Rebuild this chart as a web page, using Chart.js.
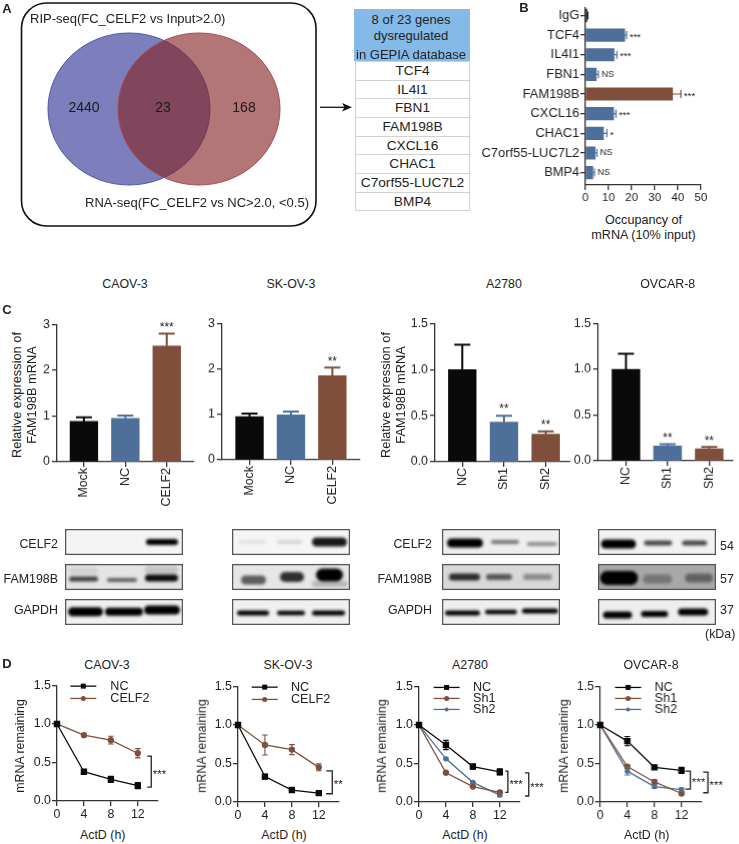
<!DOCTYPE html>
<html>
<head>
<meta charset="utf-8">
<title>CELF2 FAM198B figure</title>
<script src="https://cdn.jsdelivr.net/npm/chart.js@4"></script>
<style>
  html, body { margin: 0; padding: 0; background: #fff; }
  #page { position: relative; width: 739px; height: 844px; overflow: hidden; font-family: "Liberation Sans", Arial, sans-serif; color: #222; }
  #page canvas { position: absolute; }
  .t { position: absolute; white-space: nowrap; line-height: 1; }
  .cell { position: absolute; box-sizing: border-box; border: 1.5px solid #d2d2d2; background: #fff; text-align: center; font-size: 13.7px; }
</style>
</head>
<body>
<div id="page"></div>
<script>
// ---------- data ----------
var vennLabels = ["2440", "23", "168"]
var geneList = ["TCF4", "IL4I1", "FBN1", "FAM198B", "CXCL16", "CHAC1", "C7orf55-LUC7L2", "BMP4"]

var occupancyLabels = ["IgG", "TCF4", "IL4I1", "FBN1", "FAM198B", "CXCL16", "CHAC1", "C7orf55-LUC7L2", "BMP4"]
var occupancyValues = [0.6, 17, 12.4, 4.7, 37.7, 12.2, 7.8, 4.2, 3.2]
var occupancyErrors = [0.4, 0.8, 1.2, 0.9, 3.6, 1.0, 1.5, 0.8, 0.7]
var occupancySig = ["", "***", "***", "NS", "***", "***", "*", "NS", "NS"]

var overLabels = ["Mock", "NC", "CELF2"]
var knockLabels = ["NC", "Sh1", "Sh2"]
var caovExpr = [0.88, 0.95, 2.53]
var caovExprErr = [0.09, 0.06, 0.27]
var skovExpr = [0.95, 0.99, 1.85]
var skovExprErr = [0.07, 0.07, 0.18]
var a2780Expr = [1.0, 0.43, 0.30]
var a2780ExprErr = [0.27, 0.07, 0.03]
var ovcarExpr = [1.0, 0.16, 0.13]
var ovcarExprErr = [0.17, 0.02, 0.02]

var hours = [0, 4, 8, 12]
var caovNC = [1, 0.38, 0.28, 0.20]
var caovNCErr = [0, 0.02, 0.04, 0.04]
var caovCELF2 = [1, 0.855, 0.79, 0.62]
var caovCELF2Err = [0, 0.01, 0.05, 0.06]
var skovNC = [1, 0.33, 0.155, 0.115]
var skovNCErr = [0, 0.03, 0.02, 0.01]
var skovCELF2 = [1, 0.74, 0.68, 0.45]
var skovCELF2Err = [0, 0.13, 0.065, 0.045]
var a2780NC = [1, 0.74, 0.46, 0.39]
var a2780NCErr = [0, 0.06, 0.03, 0.04]
var a2780Sh1 = [1, 0.38, 0.20, 0.125]
var a2780Sh1Err = [0, 0.01, 0.01, 0.02]
var a2780Sh2 = [1, 0.56, 0.255, 0.09]
var a2780Sh2Err = [0, 0.01, 0.01, 0.02]
var ovcarNC = [1, 0.79, 0.45, 0.41]
var ovcarNCErr = [0, 0.06, 0.02, 0.04]
var ovcarSh1 = [1, 0.46, 0.26, 0.11]
var ovcarSh1Err = [0, 0.02, 0.03, 0.02]
var ovcarSh2 = [1, 0.40, 0.20, 0.16]
var ovcarSh2Err = [0, 0.05, 0.02, 0.02]

// western blot bands: lane start, lane end, row centre, thickness, darkness
var caovBands = [[81,113,13,6,1],[4,33,42,8,.07],[4,33,50,5,.72],[42,72,51,4,.58],[80,113,41,9,.13],[80,113,49,7,.95],[3,38,82.7,9,1],[40,78,82.7,8,1],[79,115,81,9,1]]
var skovBands = [[6,35,13,4,.07],[45,70,13,4,.13],[80,115,13,9,.9],[9,34,51,9,.6],[48,72,48,10,.8],[84,111,46,13,1],[80,116,55,6,.2],[5,37,84,5,1],[45,73,84,4.5,1],[80,113,84,5,1]]
var a2780Bands = [[5,41,14,9,1],[49,77,13,4,.5],[85,115,15,4,.4],[7,38,48,7,.8],[44,70,48,6,.6],[81,110,48,6,.35],[3,38,84,5,1],[43,75,83,4.5,1],[80,116,82,5,1]]
var ovcarBands = [[3,38,15,9,1],[46,74,14,5,.7],[84,109,14,5,.7],[2,40,49,14,1],[45,74,50,9,.3],[87,115,49,9,.42],[5,34,86,7,1],[43,70,85,6,1],[80,110,83,7,1]]

// ---------- helpers ----------
var BLACK = "#0a0a0a", BLUE = "#4e6f9a", BROWN = "#7f4f3c", AXIS = "#333"
Chart.defaults.font.family = '"Liberation Sans", Arial, sans-serif'
Chart.defaults.color = "#222"
Chart.defaults.animation = false
Chart.defaults.layout.autoPadding = false

var page = document.getElementById("page")

function txt(s, x, y, size, opt) {
  opt = opt || {}
  var el = document.createElement("div")
  el.className = "t"
  el.textContent = s
  el.style.left = x + "px"
  el.style.top = y + "px"
  el.style.fontSize = size + "px"
  if (opt.bold) el.style.fontWeight = "bold"
  var ax = opt.align == "left" ? "0" : opt.align == "right" ? "-100%" : "-50%"
  el.style.transform = "translate(" + ax + ",-50%)" + (opt.rot ? " rotate(-90deg)" : "")
  page.appendChild(el)
}

function makeCanvas(left, top, w, h) {
  var c = document.createElement("canvas")
  c.width = w
  c.height = h
  c.style.left = left + "px"
  c.style.top = top + "px"
  c.style.width = w + "px"
  c.style.height = h + "px"
  page.appendChild(c)
  return c.getContext("2d")
}

// draws the error bars of every dataset that has an err list
var errorBars = {
  id: "errorBars",
  afterDatasetsDraw: function (chart) {
    var ctx = chart.ctx
    chart.data.datasets.forEach(function (ds, i) {
      if (!ds.err) return
      var sx = chart.scales.x, sy = chart.scales.y
      var horiz = chart.options.indexAxis == "y"
      ctx.save()
      ds.err.forEach(function (e, k) {
        if (!e) return
        var p = ds.data[k]
        ctx.strokeStyle = ds.errColor ? ds.errColor[k] : ds.borderColor
        ctx.lineWidth = ds.errWidth
        ctx.beginPath()
        if (horiz) {
          var y = sy.getPixelForValue(p.y), a = sx.getPixelForValue(p.x), b = sx.getPixelForValue(p.x + e)
          ctx.moveTo(a, y); ctx.lineTo(b, y)
          ctx.moveTo(b, y - ds.errCap); ctx.lineTo(b, y + ds.errCap)
        } else {
          var x = sx.getPixelForValue(p.x), top = sy.getPixelForValue(p.y + e)
          var low = ds.errBoth ? sy.getPixelForValue(p.y - e) : sy.getPixelForValue(p.y)
          ctx.moveTo(x, low); ctx.lineTo(x, top)
          ctx.moveTo(x - ds.errCap, top); ctx.lineTo(x + ds.errCap, top)
          if (ds.errBoth) { ctx.moveTo(x - ds.errCap, low); ctx.lineTo(x + ds.errCap, low) }
        }
        ctx.stroke()
      })
      ctx.restore()
    })
  }
}

function axisScale(o) {
  return Object.assign({
    type: "linear",
    offset: false,
    grid: { offset: false, drawOnChartArea: false, drawTicks: true, tickLength: 5, tickColor: AXIS, tickWidth: 1.3, lineWidth: 1.3 },
    border: { display: true, color: AXIS, width: 1.3 }
  }, o)
}

// fixes the plot area on the page: axis at ax0..ax1, top at y0, zero at y1
function frame(ax0, ax1, y0, y1, ml, mr, mt, mb) {
  return { left: ax0 - ml, top: y0 - mt, w: ml + ax1 - ax0 + mr, h: mt + y1 - y0 + mb, ml: ml, mr: mr, mt: mt, mb: mb }
}

// ---------- panel A ----------
var vennDecor = {
  id: "vennDecor",
  beforeDatasetsDraw: function (chart) {
    var ctx = chart.ctx
    ctx.save()
    ctx.strokeStyle = "#111"
    ctx.lineWidth = 1.6
    ctx.beginPath()
    ctx.roundRect(21.5, 3, 294.5, 223, 25)
    ctx.stroke()
    ctx.restore()
  },
  beforeDatasetDraw: function (chart) {
    var ctx = chart.ctx, cy = chart.scales.y.getPixelForValue(109)
    ctx.save()
    ctx.translate(0, cy); ctx.scale(1, 76 / 81); ctx.translate(0, -cy)
  },
  afterDatasetDraw: function (chart) { chart.ctx.restore() },
  afterDraw: function (chart) {
    var ctx = chart.ctx
    ctx.save()
    ctx.strokeStyle = "#111"
    ctx.fillStyle = "#111"
    ctx.lineWidth = 1.3
    ctx.beginPath(); ctx.moveTo(320, 107.3); ctx.lineTo(348, 107.3); ctx.stroke()
    ctx.beginPath(); ctx.moveTo(352, 107.3); ctx.lineTo(342, 103); ctx.lineTo(344.5, 107.3); ctx.lineTo(342, 111.6); ctx.closePath(); ctx.fill()
    ctx.fillStyle = "#1a1a1a"
    ctx.font = '14px "Liberation Sans"'
    ctx.textAlign = "center"
    ctx.textBaseline = "middle"
    var xs = [84, 163, 244]
    vennLabels.forEach(function (s, i) { ctx.fillText(s, xs[i], 108.5) })
    ctx.restore()
  }
}
new Chart(makeCanvas(0, 0, 355, 232), {
  type: "bubble",
  data: { datasets: [
    { data: [{ x: 199, y: 109, r: 81 }], backgroundColor: "rgba(132,34,34,.62)", borderColor: "#a34a52", borderWidth: 1, order: 1, clip: false },
    { data: [{ x: 129, y: 109, r: 81 }], backgroundColor: "rgba(68,73,158,.7)", borderColor: "#4b55a8", borderWidth: 1, order: 2, clip: false }
  ] },
  options: {
    responsive: false,
    plugins: { legend: { display: false }, tooltip: { enabled: false } },
    scales: {
      x: { type: "linear", display: false, min: 0, max: 355 },
      y: { type: "linear", display: false, min: 0, max: 232, reverse: true }
    }
  },
  plugins: [vennDecor]
})
txt("RIP-seq(FC_CELF2 vs Input>2.0)", 30, 18, 13, { align: "left" })
txt("RNA-seq(FC_CELF2 vs NC>2.0, <0.5)", 85, 202, 13, { align: "left" })

// gene table
var head = document.createElement("div")
head.style.cssText = "position:absolute;left:354px;top:9px;width:116px;height:52px;background:#85b9e8"
page.appendChild(head)
txt("8 of 23 genes", 411, 18.5, 13)
txt("dysregulated", 411, 35, 13)
txt("in GEPIA database", 411, 54, 13)
geneList.forEach(function (g, i) {
  var c = document.createElement("div")
  c.className = "cell"
  c.textContent = g
  c.style.left = "355px"
  c.style.width = "115px"
  c.style.top = (61 + i * 18.65) + "px"
  c.style.height = "19.65px"
  c.style.lineHeight = "17px"
  page.appendChild(c)
})

// ---------- panel B ----------
var sigLabels = {
  id: "sigLabels",
  afterDatasetsDraw: function (chart) {
    var ctx = chart.ctx
    ctx.save()
    ctx.fillStyle = "#222"
    ctx.textAlign = "left"
    ctx.textBaseline = "middle"
    occupancySig.forEach(function (s, i) {
      if (!s) return
      var x = chart.scales.x.getPixelForValue(occupancyValues[i] + occupancyErrors[i]) + 3
      var y = chart.scales.y.getPixelForValue(i)
      ctx.font = (s == "NS" ? 9 : 9.5) + 'px "Liberation Sans"'
      ctx.fillText(s, x, s == "NS" ? y : y + 2)
    })
    ctx.restore()
  }
}
var fb = frame(585.3, 700.7, 7, 185, 105, 20, 8, 20)
new Chart(makeCanvas(fb.left, fb.top, fb.w, fb.h), {
  type: "bar",
  data: { datasets: [{
    data: occupancyValues.map(function (v, i) { return { x: v, y: i } }),
    backgroundColor: occupancyValues.map(function (v, i) { return i == 0 ? BLACK : i == 4 ? BROWN : BLUE }),
    barThickness: 12.5,
    err: occupancyErrors,
    errColor: occupancyValues.map(function (v, i) { return i == 0 ? BLACK : i == 4 ? BROWN : BLUE }),
    errWidth: 1.2,
    errCap: 4
  }] },
  options: {
    indexAxis: "y",
    responsive: false,
    layout: { padding: { left: 0, top: fb.mt, right: fb.mr, bottom: 0 } },
    plugins: { legend: { display: false }, tooltip: { enabled: false } },
    scales: {
      x: axisScale({ min: 0, max: 50, ticks: { stepSize: 10, font: { size: 11.5 }, padding: 1 }, afterFit: function (s) { s.height = fb.mb } }),
      y: axisScale({ min: -0.39, max: 8.63, reverse: true,
        ticks: { font: { size: 12.9 }, padding: 1, callback: function (v) { return occupancyLabels[v] } },
        afterBuildTicks: function (s) { s.ticks = occupancyLabels.map(function (c, i) { return { value: i } }) },
        afterFit: function (s) { s.width = fb.ml } })
    }
  },
  plugins: [errorBars, sigLabels]
})
txt("Occupancy of", 643.5, 220, 12.6)
txt("mRNA (10% input)", 643.5, 234.5, 12.6)

// ---------- panel C ----------
function barPanel(ax0, ax1, y0, y1, spacing, c0, labels, values, errs, yMax, step, stars) {
  var f = frame(ax0, ax1, y0, y1, 30, 10, 8, 45)
  var cols = [BLACK, BLUE, BROWN]
  var starPlugin = {
    id: "stars",
    afterDatasetsDraw: function (chart) {
      var ctx = chart.ctx
      ctx.save()
      ctx.fillStyle = "#222"
      ctx.font = '12px "Liberation Sans"'
      ctx.textAlign = "center"
      ctx.textBaseline = "middle"
      stars.forEach(function (s, i) {
        if (!s) return
        ctx.fillText(s, chart.scales.x.getPixelForValue(i), chart.scales.y.getPixelForValue(values[i] + errs[i]) - 6)
      })
      ctx.restore()
    }
  }
  new Chart(makeCanvas(f.left, f.top, f.w, f.h), {
    type: "bar",
    data: { datasets: [{
      data: values.map(function (v, i) { return { x: i, y: v } }),
      backgroundColor: cols,
      barThickness: 27.7,
      err: errs,
      errColor: cols,
      errWidth: 2,
      errCap: 8
    }] },
    options: {
      responsive: false,
      layout: { padding: { left: 0, top: f.mt, right: f.mr, bottom: 0 } },
      plugins: { legend: { display: false }, tooltip: { enabled: false } },
      scales: {
        x: axisScale({ min: -(c0 - ax0) / spacing, max: (ax1 - c0) / spacing,
          ticks: { font: { size: 12.4 }, minRotation: 90, maxRotation: 90, padding: 1, autoSkip: false, callback: function (v) { return labels[v] } },
          afterBuildTicks: function (s) { s.ticks = labels.map(function (c, i) { return { value: i } }) },
          afterFit: function (s) { s.height = f.mb } }),
        y: axisScale({ min: 0, max: yMax,
          ticks: { stepSize: step, font: { size: 12.4 }, padding: 2, callback: function (v) { return step < 1 ? v.toFixed(1) : v } },
          afterFit: function (s) { s.width = f.ml } })
      }
    },
    plugins: [errorBars, starPlugin]
  })
}
barPanel(56.7, 194, 323.3, 461.7, 41.5, 83.7, overLabels, caovExpr, caovExprErr, 3, 1, ["", "", "***"])
barPanel(221.7, 360, 322.3, 460, 41.5, 249.3, overLabels, skovExpr, skovExprErr, 3, 1, ["", "", "**"])
barPanel(435, 570, 322.3, 461.7, 41.7, 462.3, knockLabels, a2780Expr, a2780ExprErr, 1.5, 0.5, ["", "**", "**"])
barPanel(598.3, 732.7, 322.3, 461, 41.5, 626, knockLabels, ovcarExpr, ovcarExprErr, 1.5, 0.5, ["", "**", "**"])

txt("CAOV-3", 125, 283.5, 12.4)
txt("SK-OV-3", 291, 283.5, 12.4)
txt("A2780", 504, 283.5, 12.4)
txt("OVCAR-8", 667.7, 283.5, 12.4)
txt("Relative expression of", 17, 395, 12.8, { rot: true })
txt("FAM198B mRNA", 32, 395, 12.8, { rot: true })
txt("Relative expression of", 385.7, 395, 12.8, { rot: true })
txt("FAM198B mRNA", 400.7, 395, 12.8, { rot: true })

// ---------- western blots ----------
function blot(left, bands, backgrounds) {
  var top = 529
  var blotDraw = {
    id: "blotDraw",
    beforeDatasetsDraw: function (chart) {
      var ctx = chart.ctx, sx = chart.scales.x, sy = chart.scales.y
      var rows = [[0, 26], [35, 61], [70, 96]]
      rows.forEach(function (r, i) {
        var a = sy.getPixelForValue(r[0]), b = sy.getPixelForValue(r[1])
        ctx.save()
        ctx.beginPath()
        ctx.rect(sx.left, a, sx.right - sx.left, b - a)
        ctx.fillStyle = backgrounds[i]
        ctx.fill()
        ctx.clip()
        ctx.filter = "blur(1.4px)"
        chart.data.datasets[0].data.forEach(function (d) {
          if (d.y < r[0] || d.y > r[1]) return
          var w = sx.getPixelForValue(d.w) - sx.getPixelForValue(0)
          ctx.fillStyle = "rgba(0,0,0," + d.d + ")"
          ctx.beginPath()
          ctx.roundRect(sx.getPixelForValue(d.x) - w / 2, sy.getPixelForValue(d.y) - d.h / 2, w, d.h, d.h / 2)
          ctx.fill()
        })
        ctx.restore()
        ctx.save()
        ctx.strokeStyle = "#555"
        ctx.lineWidth = 1.3
        ctx.strokeRect(sx.left + 0.6, a + 0.6, sx.right - sx.left - 1.2, b - a - 1.2)
        ctx.restore()
      })
    }
  }
  new Chart(makeCanvas(left, top, 118, 96), {
    type: "scatter",
    data: { datasets: [{
      data: bands.map(function (b) { return { x: (b[0] + b[1]) / 2, y: b[2], w: b[1] - b[0], h: b[3], d: b[4] } }),
      pointRadius: 0
    }] },
    options: {
      responsive: false,
      plugins: { legend: { display: false }, tooltip: { enabled: false } },
      scales: {
        x: { type: "linear", display: false, min: 0, max: 118 },
        y: { type: "linear", display: false, min: 0, max: 96, reverse: true }
      }
    },
    plugins: [blotDraw]
  })
}
blot(65, caovBands, ["#f4f4f4", "#e4e4e4", "#f0f0f0"])
blot(232, skovBands, ["#f5f5f5", "#e6e6e6", "#f0f0f0"])
blot(442, a2780Bands, ["#eeeeee", "#d8d8d8", "#efefef"])
blot(598, ovcarBands, ["#f2f2f2", "#a8a8a8", "#eeeeee"])

;[58, 432].forEach(function (x) {
  txt("CELF2", x, 544, 12.4, { align: "right" })
  txt("FAM198B", x, 579, 12.4, { align: "right" })
  txt("GAPDH", x, 610, 12.4, { align: "right" })
})
txt("54", 720, 545.5, 12.4, { align: "left" })
txt("57", 720, 579, 12.4, { align: "left" })
txt("37", 720, 610, 12.4, { align: "left" })
txt("(kDa)", 705, 634, 12.4, { align: "left" })

// ---------- panel D ----------
function linePanel(ax0, ax1, y0, y1, series, legendX, legendLabelX, brackets) {
  var f = frame(ax0, ax1, y0, y1, 40, 40, 8, 22)
  var decor = {
    id: "decor",
    afterDatasetsDraw: function (chart) {
      var ctx = chart.ctx, sx = chart.scales.x, sy = chart.scales.y
      ctx.save()
      // brackets with their stars
      brackets.forEach(function (b) {
        var x0 = sx.getPixelForValue(b[0]), x1 = sx.getPixelForValue(b[1])
        var y0 = sy.getPixelForValue(b[2]), y1 = sy.getPixelForValue(b[3])
        ctx.strokeStyle = "#222"
        ctx.lineWidth = 1.3
        ctx.beginPath()
        ctx.moveTo(x0, y0); ctx.lineTo(x1, y0); ctx.lineTo(x1, y1); ctx.lineTo(x0, y1)
        ctx.stroke()
        ctx.fillStyle = "#222"
        ctx.font = '11.5px "Liberation Sans"'
        ctx.textAlign = "left"
        ctx.textBaseline = "middle"
        ctx.fillText(b[4], x1 + 1.5, (y0 + y1) / 2 + 3)
      })
      // legend, written next to the plot like in the figure
      series.forEach(function (s, i) {
        var ly = sy.getPixelForValue(1.5) + (series.length == 3 ? [1, 12, 23][i] : [0.7, 13][i])
        var lx0 = legendX - f.left, lx1 = lx0 + 26
        ctx.strokeStyle = s.color
        ctx.fillStyle = s.color
        ctx.lineWidth = 1.3
        ctx.beginPath(); ctx.moveTo(lx0, ly); ctx.lineTo(lx1, ly); ctx.stroke()
        ctx.beginPath()
        if (s.style == "rect") ctx.rect((lx0 + lx1) / 2 - 2.5, ly - 2.5, 5, 5)
        else ctx.arc((lx0 + lx1) / 2, ly, s.r, 0, Math.PI * 2)
        ctx.fill()
        ctx.fillStyle = "#222"
        ctx.font = '12.6px "Liberation Sans"'
        ctx.textAlign = "left"
        ctx.textBaseline = "middle"
        ctx.fillText(s.label, legendLabelX - f.left, ly + 0.5)
      })
      ctx.restore()
    }
  }
  new Chart(makeCanvas(f.left, f.top, f.w, f.h), {
    type: "line",
    data: { datasets: series.map(function (s) {
      return {
        label: s.label,
        data: hours.map(function (h, i) { return { x: h, y: s.values[i] } }),
        borderColor: s.color,
        backgroundColor: s.color,
        borderWidth: 1.3,
        tension: 0,
        clip: false,
        pointStyle: s.style,
        pointRadius: s.style == "rect" ? 3.6 : s.r,
        err: s.errs,
        errWidth: 1.1,
        errCap: 2.8,
        errBoth: true
      }
    }) },
    options: {
      responsive: false,
      layout: { padding: { left: 0, top: f.mt, right: f.mr, bottom: 0 } },
      plugins: { legend: { display: false }, tooltip: { enabled: false } },
      scales: {
        x: axisScale({ min: 0, max: 15, ticks: { font: { size: 12.4 }, padding: 1 },
          afterBuildTicks: function (s) { s.ticks = hours.map(function (h) { return { value: h } }) },
          afterFit: function (s) { s.height = f.mb } }),
        y: axisScale({ min: 0, max: 1.5, ticks: { stepSize: 0.5, font: { size: 12.4 }, padding: 1, callback: function (v) { return v.toFixed(1) } },
          afterFit: function (s) { s.width = f.ml } })
      }
    },
    plugins: [errorBars, decor]
  })
}
function nc(v, e) { return { label: "NC", values: v, errs: e, color: BLACK, style: "rect", r: 3 } }
function brown(l, v, e) { return { label: l, values: v, errs: e, color: BROWN, style: "circle", r: 2.5 } }
function blue(l, v, e) { return { label: l, values: v, errs: e, color: BLUE, style: "circle", r: 2 } }

linePanel(56.7, 158, 685, 801, [nc(caovNC, caovNCErr), brown("CELF2", caovCELF2, caovCELF2Err)], 70, 110, [[13.4, 14, 0.582, 0.181, "***"]])
linePanel(238, 339.3, 686, 802, [nc(skovNC, skovNCErr), brown("CELF2", skovCELF2, skovCELF2Err)], 251.7, 291, [[13.1, 14, 0.405, 0.107, "**"]])
linePanel(418.7, 520, 686, 802, [nc(a2780NC, a2780NCErr), brown("Sh1", a2780Sh1, a2780Sh1Err), blue("Sh2", a2780Sh2, a2780Sh2Err)], 433.3, 472.7,
  [[12.8, 13.2, 0.40, 0.125, "***"], [15.75, 16.3, 0.379, 0.078, "***"]])
linePanel(600.3, 702, 686, 802, [nc(ovcarNC, ovcarNCErr), brown("Sh1", ovcarSh1, ovcarSh1Err), blue("Sh2", ovcarSh2, ovcarSh2Err)], 615, 654.3,
  [[12.55, 13.3, 0.40, 0.168, "***"], [15.2, 15.9, 0.388, 0.12, "***"]])

txt("CAOV-3", 107, 665, 12.4)
txt("SK-OV-3", 288, 665, 12.4)
txt("A2780", 470, 665, 12.4)
txt("OVCAR-8", 651, 665, 12.4)
;[[102.7, 20], [284, 201.7], [465, 382], [646.7, 564]].forEach(function (p) {
  txt("ActD (h)", p[0], 835, 12.4)
  txt("mRNA remaining", p[1], 746, 12.4, { rot: true })
})

// panel letters
txt("A", 7, 8, 13, { bold: true })
txt("B", 524, 7, 13, { bold: true })
txt("C", 7, 309, 13, { bold: true })
txt("D", 7, 663, 13, { bold: true })
</script>
</body>
</html>
